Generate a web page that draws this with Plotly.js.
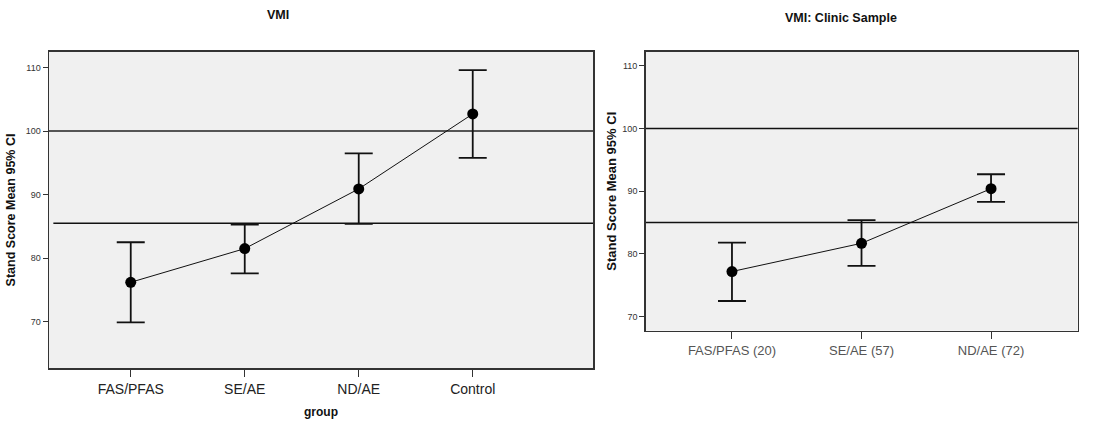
<!DOCTYPE html>
<html>
<head>
<meta charset="utf-8">
<script src="https://cdn.plot.ly/plotly-3.0.1.min.js"></script>
<style>html,body{margin:0;padding:0;background:#fff;}#chart{width:1109px;height:424px;}</style>
</head>
<body>
<div id="chart"></div>
<script>
// Left panel: VMI
const groupsLeft = ["FAS/PFAS", "SE/AE", "ND/AE", "Control"];
const meanLeft = [76.2, 81.5, 90.9, 102.7];
const upperLeft = [82.5, 85.3, 96.5, 109.6];
const lowerLeft = [69.9, 77.6, 85.4, 95.8];
const refLinesLeft = [100, 85.5];

// Right panel: VMI: Clinic Sample
const groupsRight = ["FAS/PFAS (20)", "SE/AE (57)", "ND/AE (72)"];
const meanRight = [77.2, 81.7, 90.4];
const upperRight = [81.8, 85.4, 92.7];
const lowerRight = [72.5, 78.1, 88.3];
const refLinesRight = [100, 85];

const yTicks = [70, 80, 90, 100, 110];

const FONT = "Arial, 'Liberation Sans', sans-serif";

function trace(x, m, up, lo, xa, ya) {
  return {
    type: "scatter", mode: "lines+markers",
    x: x, y: m, xaxis: xa, yaxis: ya,
    line: {color: "#111", width: 1},
    marker: {color: "#000", size: 11},
    error_y: {
      type: "data", symmetric: false,
      array: up.map((u, i) => u - m[i]),
      arrayminus: lo.map((l, i) => m[i] - l),
      color: "#111", thickness: 1.8, width: 14
    },
    hoverinfo: "skip", showlegend: false, cliponaxis: false
  };
}

const data = [
  trace(groupsLeft, meanLeft, upperLeft, lowerLeft, "x", "y"),
  trace(groupsRight, meanRight, upperRight, lowerRight, "x2", "y2")
];

const shapes = [];
refLinesLeft.forEach((v, i) => shapes.push({
  type: "line", xref: "x domain", yref: "y", x0: i === 0 ? 0 : 0.008, x1: 1, y0: v, y1: v,
  line: {color: i === 0 ? "#555" : "#111", width: i === 0 ? 2 : 1.5}, layer: "below"
}));
refLinesRight.forEach(v => shapes.push({
  type: "line", xref: "x2 domain", yref: "y2", x0: 0, x1: 1, y0: v, y1: v,
  line: {color: "#111", width: 1.5}, layer: "below"
}));

const yaxBase = {
  tickvals: yTicks, ticks: "outside", ticklen: 5, tickwidth: 1, tickcolor: "#333",
  tickfont: {family: FONT, size: 9, color: "#333"},
  showgrid: false, zeroline: false, showline: true, mirror: true,
  linecolor: "#333", linewidth: 1.5, fixedrange: true
};
const xaxBase = {
  type: "category", ticks: "outside", ticklen: 7, tickwidth: 1, tickcolor: "#333",
  tickfont: {family: FONT, size: 14, color: "#222"},
  showgrid: false, zeroline: false, showline: true, mirror: true,
  linecolor: "#333", linewidth: 1.5, fixedrange: true
};

const layout = {
  width: 1109, height: 424,
  margin: {l: 0, r: 0, t: 0, b: 0},
  paper_bgcolor: "#fff", plot_bgcolor: "#f0f0f0",
  font: {family: FONT},
  showlegend: false,
  xaxis: Object.assign({}, xaxBase, {
    domain: [49 / 1109, 593 / 1109], range: [-0.717, 4.055], anchor: "y",
    title: {text: "<b>group</b>", font: {family: FONT, size: 12, color: "#111"}, standoff: 12}
  }),
  yaxis: Object.assign({}, yaxBase, {
    domain: [1 - 368.3 / 424, 1 - 51.7 / 424], range: [62.66, 112.5], anchor: "x",
    title: {text: "<b>Stand Score Mean 95% CI</b>", font: {family: FONT, size: 12.5, color: "#111"}, standoff: 7}
  }),
  xaxis2: Object.assign({}, xaxBase, {
    domain: [645.7 / 1109, 1077.7 / 1109], range: [-0.666, 2.669], anchor: "y2",
    tickfont: {family: FONT, size: 13, color: "#555"}
  }),
  yaxis2: Object.assign({}, yaxBase, {
    domain: [1 - 330.7 / 424, 1 - 51.7 / 424], range: [67.77, 112.23], anchor: "x2",
    title: {text: "<b>Stand Score Mean 95% CI</b>", font: {family: FONT, size: 13, color: "#111"}, standoff: 3}
  }),
  shapes: shapes,
  annotations: [
    {text: "<b>VMI</b>", xref: "paper", yref: "paper", x: 278 / 1109, y: 1 - 15 / 424,
     xanchor: "center", yanchor: "middle", showarrow: false, font: {family: FONT, size: 12.5, color: "#111"}},
    {text: "<b>VMI: Clinic Sample</b>", xref: "paper", yref: "paper", x: 841 / 1109, y: 1 - 18 / 424,
     xanchor: "center", yanchor: "middle", showarrow: false, font: {family: FONT, size: 12.5, color: "#111"}}
  ]
};

Plotly.newPlot("chart", data, layout, {displayModeBar: false, staticPlot: true});
</script>
</body>
</html>
